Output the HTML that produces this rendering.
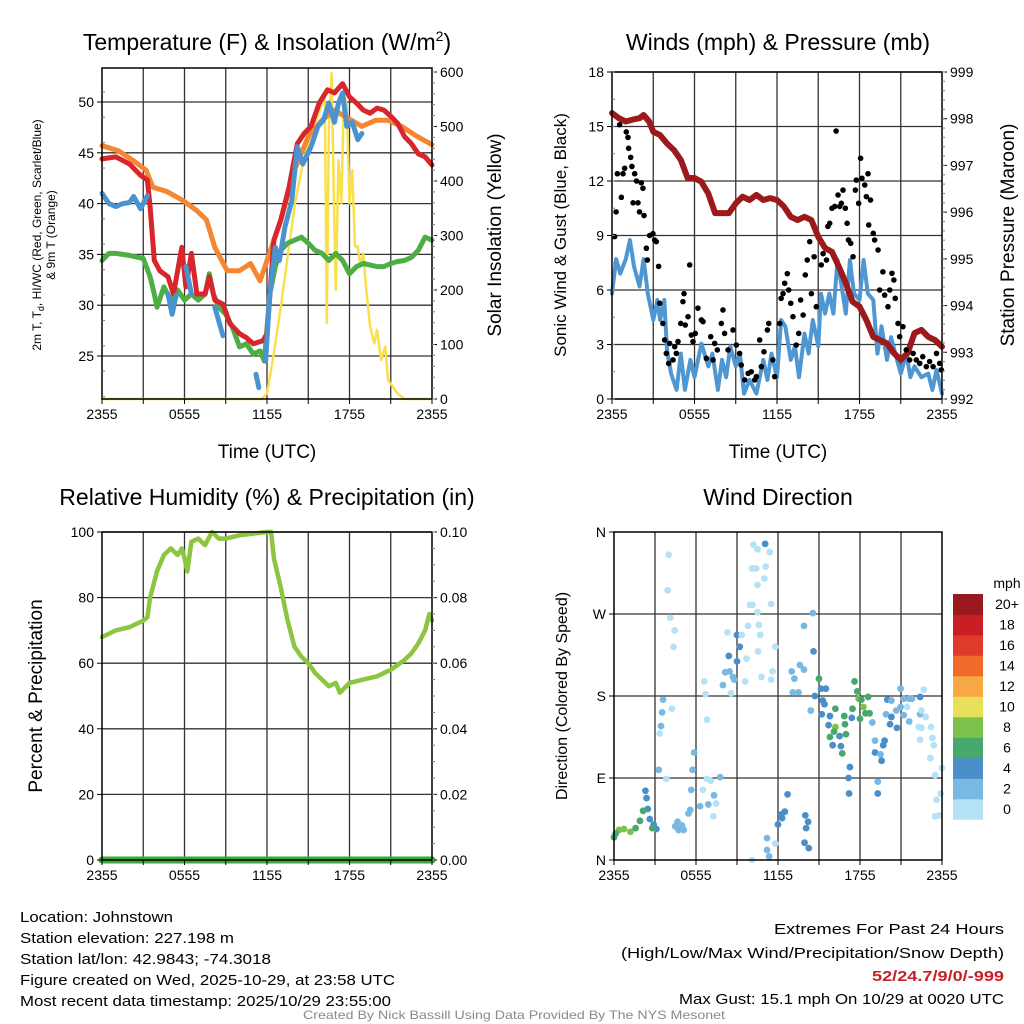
<!DOCTYPE html>
<html><head><meta charset="utf-8">
<style>
html,body{margin:0;padding:0;background:#fff;}
svg{display:block;font-family:"Liberation Sans",Arial,sans-serif;}
</style></head>
<body>
<svg id="fig" xmlns="http://www.w3.org/2000/svg" width="1024" height="1024" viewBox="0 0 1024 1024">
<rect x="0" y="0" width="1024" height="1024" fill="#fff"/>
<g id="layer"></g>
<text x="267" y="50" font-size="23" text-anchor="middle">Temperature (F) &amp; Insolation (W/m<tspan dy="-9" font-size="14">2</tspan><tspan dy="9">)</tspan></text>
<text x="778" y="50" font-size="23" text-anchor="middle">Winds (mph) &amp; Pressure (mb)</text>
<text x="267" y="505" font-size="23" text-anchor="middle">Relative Humidity (%) &amp; Precipitation (in)</text>
<text x="778" y="505" font-size="23" text-anchor="middle">Wind Direction</text>
<text x="267" y="458" font-size="19" text-anchor="middle">Time (UTC)</text>
<text x="778" y="458" font-size="19" text-anchor="middle">Time (UTC)</text>
<text transform="translate(41,235) rotate(-90)" font-size="12" text-anchor="middle">2m T, T<tspan dy="3" font-size="9">d</tspan><tspan dy="-3">, HI/WC (Red, Green, Scarlet/Blue)</tspan></text>
<text transform="translate(55,235) rotate(-90)" font-size="12" text-anchor="middle">&amp; 9m T (Orange)</text>
<text transform="translate(501,235) rotate(-90)" font-size="19" text-anchor="middle">Solar Insolation (Yellow)</text>
<text transform="translate(566,235) rotate(-90)" font-size="17" text-anchor="middle">Sonic Wind &amp; Gust (Blue, Black)</text>
<text transform="translate(1014,235) rotate(-90)" font-size="19" text-anchor="middle">Station Pressure (Maroon)</text>
<text transform="translate(42,696) rotate(-90)" font-size="19" text-anchor="middle">Percent &amp; Precipitation</text>
<text transform="translate(567,696) rotate(-90)" font-size="16" text-anchor="middle">Direction (Colored By Speed)</text>
<g font-size="15">
<text x="20" y="922" textLength="153" lengthAdjust="spacingAndGlyphs">Location: Johnstown</text>
<text x="20" y="943" textLength="214" lengthAdjust="spacingAndGlyphs">Station elevation: 227.198 m</text>
<text x="20" y="964" textLength="251" lengthAdjust="spacingAndGlyphs">Station lat/lon: 42.9843; -74.3018</text>
<text x="20" y="985" textLength="375" lengthAdjust="spacingAndGlyphs">Figure created on Wed, 2025-10-29, at 23:58 UTC</text>
<text x="20" y="1006" textLength="371" lengthAdjust="spacingAndGlyphs">Most recent data timestamp: 2025/10/29 23:55:00</text>
</g>
<g font-size="15">
<text x="774" y="934" textLength="230" lengthAdjust="spacingAndGlyphs">Extremes For Past 24 Hours</text>
<text x="621" y="958" textLength="383" lengthAdjust="spacingAndGlyphs">(High/Low/Max Wind/Precipitation/Snow Depth)</text>
<text x="872" y="981" textLength="132" lengthAdjust="spacingAndGlyphs" fill="#c8202a" font-weight="bold">52/24.7/9/0/-999</text>
<text x="679" y="1004" textLength="325" lengthAdjust="spacingAndGlyphs">Max Gust: 15.1 mph On 10/29 at 0020 UTC</text>
</g>
<text x="303" y="1019" font-size="12" fill="#8a8a8a" textLength="422" lengthAdjust="spacingAndGlyphs">Created By Nick Bassill Using Data Provided By The NYS Mesonet</text>
</svg>
<script>
// ---- Temperature panel data (hours since 2355 UTC, deg F) ----
const orangeT = [0,1.2,2.2,3.2,3.7,4.7,5.9,6.9,7.6,8.2,9.1,10,10.8,11.5,12,13,14,15,16,16.9,17.9,18.9,19.9,20.8,21.8,22.8,24];
const orangeV = [45.7,45.2,44.3,43.3,41.6,41.2,40.3,39.3,38.4,35.7,33.4,33.4,34.1,32.4,34.4,38.4,43.3,46.6,48.2,49.2,48.4,47.6,48.2,48.2,47.6,46.7,45.8];
const redT = [0,1,2,2.8,3.3,3.5,3.8,4.2,4.8,5.2,5.8,6.1,6.5,6.9,7.5,7.8,8.2,8.8,9.3,10,10.5,11,11.7,12,12.5,13,13.6,14.2,14.7,15.2,15.8,16.4,16.9,17.5,18,18.5,19,19.5,20,20.5,21,21.5,22,22.5,23,23.5,24];
const redV = [44.4,44.6,43.9,42.8,42.3,39.7,34.4,33.4,32.8,31.1,35.7,31.8,35.1,31.1,31.1,32.8,30.5,30.1,28.2,27.2,26.8,26.2,26.5,27.2,36.4,38.4,41.6,45.9,46.9,47.6,49.9,51.2,50.9,51.8,50.5,49.9,49.2,48.9,49.4,49.2,48.6,47.9,46.6,45.9,44.9,44.6,43.8];
const blueT = [0,0.5,1,1.5,2,2.3,2.8,3.3,null,4.8,5.1,5.4,null,6.1,6.3,6.5,null,8.2,8.8,null,11.2,11.4,null,11.9,12.2,12.6,12.9,13.3,13.8,14.2,14.6,15.2,15.7,16.1,16.5,16.9,17.2,17.5,17.8,18.2,18.6,18.9];
const blueV = [41.0,40.0,39.7,40.0,40.1,40.7,39.5,40.8,null,31.1,29.1,31.0,null,33.8,32.5,31.1,null,29.8,27.0,null,23.2,21.9,null,24.5,31.1,35.7,34.4,37.7,40.3,45.6,43.9,45.6,47.6,48.2,49.9,48.0,49.9,50.9,47.6,48.0,46.3,46.9];
const greenT = [0,0.5,1,2,3,3.5,3.8,4,4.5,5,5.5,6,6.5,7,7.5,7.8,8.1,8.5,9,9.5,10,10.5,11,11.5,11.8,12.2,12.6,13,13.5,14,14.5,15,15.5,16,16.5,17,17.5,18,18.5,19,20,20.5,21,21.5,22,22.5,23,23.5,24];
const greenV = [34.4,35.1,35.1,34.9,34.6,32.8,31.1,29.8,31.8,30.5,31.5,30.5,31.1,30.5,31.1,33.1,31.1,29.8,29.1,27.8,25.9,26.2,25.2,25.5,24.5,31.1,33.8,35.4,36.1,36.4,36.7,36.1,35.4,35.1,34.4,35.1,34.4,33.1,33.8,34.1,33.8,33.8,34.1,34.3,34.4,34.7,35.4,36.7,36.4];
const solarT = [0,11.6,12,12.5,13,13.5,14,14.5,15,15.5,16,16.2,16.35,16.5,16.7,16.9,17,17.2,17.4,17.6,17.8,18,18.2,18.4,18.6,18.8,19,19.2,19.5,19.8,20,20.3,20.6,20.8,21.5,22,24];
const solarV = [0,0,10,84,169,261,353,420,469,506,542,561,139,500,598,316,200,438,359,555,540,359,420,280,280,243,267,206,133,102,127,72,96,35,10,0,0];
const tempTicks = [25,30,35,40,45,50];
const solarTicks = [0,100,200,300,400,500,600];
const timeTicks = ["2355","0555","1155","1755","2355"];

// ---- Wind panel data ----
const presT = [0,0.5,1,1.5,2,2.3,2.7,3,3.5,4,4.5,5,5.5,6,6.5,7,7.5,8,8.5,9,9.5,10,10.5,11,11.5,12,12.5,13,13.5,14,14.5,15,15.5,16,16.5,17,17.5,18,18.5,19,19.5,20,20.5,21,21.5,22,22.5,23,23.5,24];
const presV = [998.12,998.01,997.94,997.98,998.01,998.08,997.94,997.72,997.65,997.47,997.33,997.12,996.73,996.73,996.65,996.40,995.98,995.98,995.98,996.19,996.33,996.26,996.37,996.26,996.30,996.26,996.12,995.90,995.83,995.90,995.83,995.47,995.23,995.15,994.83,994.48,994.08,993.98,993.69,993.33,993.26,993.19,992.98,992.84,992.98,993.41,993.48,993.33,993.26,993.12];
const windT = [0,0.3,0.6,1,1.3,1.6,2,2.3,2.6,3,3.3,3.5,3.8,4,4.3,4.7,5,5.3,5.7,6,6.5,7,7.3,7.7,8,8.3,8.6,9,9.3,9.6,10,10.5,11,11.3,11.6,12,12.3,12.6,13,13.3,13.6,14,14.3,14.6,15,15.2,15.5,15.8,16.1,16.4,16.7,17,17.3,17.6,18,18.3,18.6,19,19.3,19.6,20,20.3,20.6,21,21.4,21.7,22,22.5,23,23.3,23.6,24];
const windV = [5.8,7.7,6.9,7.7,8.75,7.3,6.2,7.7,5.8,4.35,5.45,4.35,5.45,2.7,1.4,0.5,2.5,0.5,2.15,1.2,3.05,1.8,2.5,0.5,2.15,1.2,2.9,1.8,2.5,0.3,1.05,0.3,2.15,1.05,2.5,1.2,4.35,4.0,2.15,2.9,1.2,3.6,2.5,4.35,2.9,5.8,4.7,5.8,4.7,7.65,6.2,4.7,7.65,5.8,5.45,7.65,5.8,5.45,2.5,4.0,2.15,3.4,2.5,1.4,2.5,1.2,1.8,1.2,1.4,0.5,1.6,0.3];
const gustT = [0.19,0.3,0.56,0.39,0.8,0.68,0.92,1.04,1.16,1.21,1.36,1.45,1.53,1.65,1.78,1.89,2.0,2.13,2.25,2.33,2.5,2.57,2.74,2.98,3.1,3.22,3.39,3.47,3.7,3.83,3.95,4.12,4.19,4.44,4.56,4.68,4.8,5.0,5.16,5.24,5.33,5.53,5.65,5.77,5.89,6.06,6.25,6.5,6.62,6.86,7.18,7.35,7.47,7.66,7.95,8.07,8.19,8.44,8.8,9.04,9.28,9.4,9.65,9.9,10.13,10.38,10.5,10.74,10.86,11.05,11.3,11.4,11.7,11.83,12.2,12.3,12.44,12.56,12.75,12.85,13.0,13.16,13.4,13.58,13.72,13.9,14.06,14.2,14.38,14.5,14.7,14.86,15.22,15.35,15.6,15.7,15.83,16.0,16.2,16.3,16.44,16.56,16.68,16.8,16.97,17.1,17.2,17.36,17.53,17.7,17.77,17.94,18.08,18.18,18.38,18.5,18.62,18.67,18.8,19.0,19.1,19.35,19.47,19.7,19.83,20.07,20.2,20.36,20.5,20.6,20.8,20.92,21.16,21.4,21.65,21.9,22.13,22.38,22.6,22.86,23.1,23.35,23.6,23.83,23.95];
const gustV = [8.94,10.3,15.1,12.4,12.4,11.1,12.7,14.7,14.4,13.8,13.3,12.8,10.8,12.4,12.0,10.8,10.3,11.9,11.6,10.1,8.3,7.65,9.0,9.1,8.75,8.66,7.3,5.27,4.16,3.25,2.51,1.96,3.06,2.15,2.88,2.51,3.16,4.16,5.36,5.8,4.07,4.53,7.38,3.52,3.16,3.61,5.0,4.35,4.26,2.24,3.43,2.15,3.06,2.7,4.16,4.9,3.61,2.7,3.8,2.97,2.51,1.87,1.05,1.41,1.5,1.05,1.23,3.25,1.78,2.6,3.8,4.16,2.15,1.23,4.16,5.54,5.8,6.37,6.9,6.0,5.27,4.53,2.97,3.61,5.45,4.62,6.83,7.65,8.66,5.8,7.83,5.08,7.38,8.0,7.65,9.5,9.67,10.5,10.6,14.75,11.23,10.6,10.77,11.5,10.5,9.67,8.75,8.57,7.83,11.5,12.05,10.77,13.25,12.15,11.78,11.14,12.4,9.58,10.95,9.12,8.75,8.2,6.0,7.0,5.72,5.08,6.0,6.92,6.55,5.54,4.16,3.43,3.98,2.7,2.15,2.51,2.15,1.96,2.33,1.78,2.06,1.78,2.51,1.96,1.6];
const windTicks = [0,3,6,9,12,15,18];
const presTicks = [992,993,994,995,996,997,998,999];

// ---- Humidity panel data ----
const rhT = [0,1,2,3,3.3,3.5,4,4.5,5,5.5,5.8,6,6.2,6.5,7,7.5,8,8.5,9,10,11,12,12.3,12.5,13,13.5,14,14.5,15,15.5,16,16.5,17,17.3,18,19,20,21,22,22.5,23,23.5,23.8,24];
const rhV = [68,70,71,73,74,80,88,93,95,93,95,92,88,97,98,96,100,98,98,99,99.5,100,100,92,83,73,65,62,60,57,55,53,54,51,54,55,56,58,61,63,66,70,75,73];
const precipT = [0,24];
const precipV = [0,0];
const rhTicks = [0,20,40,60,80,100];
const precipTicks = ["0.00","0.02","0.04","0.06","0.08","0.10"];

// ---- Wind direction panel data ----
const dirT = [4.0,3.93,4.12,4.44,4.36,3.59,4.24,3.52,3.44,3.35,3.27,3.83,5.87,5.75,5.65,6.5,6.8,7.08,7.76,7.32,7.47,6.9,6.3,5.58,5.45,7.27,4.65,4.97,4.73,5.1,4.48,2.3,2.38,2.47,2.13,2.62,1.9,2.9,3.1,2.8,1.58,1.2,0.73,0.37,0.12,0.0,6.6,6.7,6.8,7.97,8.14,8.45,8.7,8.8,8.56,8.3,9.0,9.2,8.4,9.0,9.35,9.8,9.7,9.6,10.13,10.6,10.7,10.54,10.79,11.5,11.6,11.8,11.5,10.5,9.95,10.5,11.0,11.1,10.4,10.1,10.2,10.5,11.06,11.4,10.1,11.35,11.2,11.2,11.8,12.0,12.3,12.5,12.7,12.25,14.0,14.2,14.06,13.94,14.25,13.9,14.55,14.6,13.0,13.2,13.6,13.9,13.08,13.5,14.4,14.7,15.0,15.15,15.5,15.27,15.4,15.2,15.7,15.8,16.2,16.85,16.9,16.2,16.1,15.8,16.5,16.97,16.0,16.6,16.7,17.6,17.8,17.9,17.45,17.4,18.0,18.25,18.6,18.7,18.1,18.4,17.26,17.16,17.2,19.3,19.3,19.1,19.8,19.1,19.5,19.58,19.7,18.9,20.0,20.3,19.9,20.3,20.2,20.7,20.65,20.97,20.97,21.2,21.6,21.8,21.45,21.2,21.6,22.4,22.4,22.66,22.5,22.8,22.3,22.5,22.4,23.2,23.3,23.4,23.15,24.0,23.5,23.9,23.6,23.8,23.5];
const dirV = [335,296,266,252,234,176,166,162,147,139,99,89,118,99,77,77,89,87,91,71,62,61,59,55,51,48,42,38,33,33,37,76,68,56,54,45,43,39,34,35,35,31,34,33,29,25,196,182,154,192,206,207,201,198,183,250,247,234,224,218,247,257,221,196,280,258,247,229,201,198,207,234,281,272,280,302,309,322,320,320,346,341,347,338,0,4,11,24,18,39,46,53,72,50,49,42,35,19,13,257,271,229,207,199,214,209,184,184,164,180,199,188,188,175,171,160,148,158,166,158,149,146,141,135,136,138,126,125,117,196,185,177,166,156,155,168,179,161,176,161,102,90,73,86,73,131,131,118,116,109,126,151,176,175,160,157,149,145,164,168,188,177,177,177,168,159,152,179,160,187,164,157,146,145,132,146,134,126,112,101,93,73,66,49,48];
const dirSpd = [1,1,1,1,1,3,1,3,3,1,3,1,3,3,3,1,1,1,3,3,1,3,3,3,3,1,3,3,3,3,3,5,5,5,7,5,7,5,5,7,7,9,9,9,7,7,1,1,1,3,3,3,3,3,1,1,5,5,5,5,1,1,1,1,1,1,1,1,1,1,1,1,1,1,1,1,1,1,1,1,1,1,5,1,1,3,3,3,1,5,5,5,5,5,5,5,5,5,5,3,3,5,3,3,3,3,3,3,3,5,7,5,5,5,5,5,5,5,7,7,7,9,7,7,5,7,5,5,7,7,7,9,7,5,7,9,7,7,7,7,5,5,5,3,5,3,5,5,3,5,5,3,5,3,3,5,5,5,3,3,3,3,3,3,1,3,3,5,3,1,1,1,1,1,1,1,1,1,1,1,1,1,1,1,1];
const dirTicks = ["N","E","S","W","N"];
const cbLabels = ["0","2","4","6","8","10","12","14","16","18","20+"];
const cbColors = ["#b6e2f7","#7ab8e4","#4a8fc9","#47a86e","#7cc24a","#e8e05a","#f8a845","#f06a2a","#e03a2a","#c81e24","#981a1e"];

const NS = "http://www.w3.org/2000/svg";
const layer = document.getElementById('layer');
function mk(tag, attrs, parent) {
  const e = document.createElementNS(NS, tag);
  for (const k in attrs) e.setAttribute(k, attrs[k]);
  (parent || layer).appendChild(e);
  return e;
}
function lin(d0, d1, r0, r1) { return v => r0 + (v - d0) * (r1 - r0) / (d1 - d0); }

function pathFrom(ts, vs, sx, sy) {
  let d = "", pen = false;
  for (let i = 0; i < ts.length; i++) {
    if (ts[i] === null || vs[i] === null) { pen = false; continue; }
    d += (pen ? "L" : "M") + sx(ts[i]).toFixed(1) + " " + sy(vs[i]).toFixed(1) + " ";
    pen = true;
  }
  return d;
}

function frame(x0, x1, y0, y1, name, hGridVals, sy) {
  const g = mk('g', {});
  
  
  const sx = lin(0, 24, x0, x1);
  for (let h = 3; h < 24; h += 3) {
    const l = mk('line', {x1: sx(h), x2: sx(h), y1: y0, y2: y1, stroke: '#333', 'stroke-width': 1.3}, g);
    
    
  }
  hGridVals.forEach(v => {
    const l = mk('line', {x1: x0, x2: x1, y1: sy(v), y2: sy(v), stroke: '#333', 'stroke-width': 1.3}, g);
    
    
  });
  return {g, sx};
}
function border(x0, x1, y0, y1, name) {
  const r = mk('rect', {x: x0, y: y0, width: x1 - x0, height: y1 - y0, fill: 'none', stroke: '#000', 'stroke-width': 1.5});
  
  
}
function xTicks(x0, x1, y1, name) {
  const sx = lin(0, 24, x0, x1);
  for (let h = 0; h <= 24; h += 3) {
    mk('line', {x1: sx(h), x2: sx(h), y1: y1, y2: y1 + 5, stroke: '#000', 'stroke-width': 1});
  }
  timeTicks.forEach((lab, i) => {
    const t = mk('text', {x: sx(i * 6), y: y1 + 20, 'font-size': 14, 'text-anchor': 'middle'});
    t.textContent = lab;
    
    
  });
}
function yTicks(vals, labels, sy, x, side, name) {
  vals.forEach((v, i) => {
    mk('line', {x1: x, x2: x + (side === 'left' ? -5 : 5), y1: sy(v), y2: sy(v), stroke: '#000', 'stroke-width': 1});
    const t = mk('text', {x: side === 'left' ? x - 8 : x + 8, y: sy(v) + 5, 'font-size': 14, 'text-anchor': side === 'left' ? 'end' : 'start'});
    t.textContent = labels[i];
    
    
  });
}
function minorTicks(lo, hi, step, sy, x, dir) {
  for (let v = lo; v <= hi + 1e-9; v += step) {
    mk('line', {x1: x, x2: x + dir * 3, y1: sy(v), y2: sy(v), stroke: '#777', 'stroke-width': 1});
  }
}
function series(ts, vs, sx, sy, color, w, name) {
  const p = mk('path', {d: pathFrom(ts, vs, sx, sy), fill: 'none', stroke: color, 'stroke-width': w, 'stroke-linejoin': 'round', 'stroke-linecap': 'round'});
  
  
}

// Panel 1: temperature
(function () {
  const x0 = 102, x1 = 432, y0 = 68, y1 = 399;
  const sy = lin(25, 50, 356, 102);
  const ss = lin(0, 600, 399, 72);
  const {sx} = frame(x0, x1, y0, y1, 'temperature', tempTicks, sy);
  series(solarT, solarV, sx, ss, '#f9e04b', 2.5, 'solar-insolation-line');
  series(orangeT, orangeV, sx, sy, '#f58632', 5, 'nine-meter-temp-line');
  series(greenT, greenV, sx, sy, '#4cae45', 5, 'dewpoint-line');
  series(redT, redV, sx, sy, '#d8262c', 5, 'two-meter-temp-line');
  series(blueT, blueV, sx, sy, '#4b93cf', 5, 'heat-index-windchill-line');
  border(x0, x1, y0, y1, 'temperature');
  xTicks(x0, x1, y1, 'temperature');
  yTicks(tempTicks, tempTicks.map(String), sy, x0, 'left', 'temperature-y');
  minorTicks(21, 53, 2.5, sy, x0, 1);
  yTicks(solarTicks, solarTicks.map(String), ss, x1, 'right', 'insolation-y');
  minorTicks(0, 600, 20, ss, x1, 1);
})();

// Panel 2: winds
(function () {
  const x0 = 612, x1 = 942, y0 = 72, y1 = 399;
  const sy = lin(0, 18, 399, 72);
  const sp = lin(992, 999, 399, 72);
  const {sx, g} = frame(x0, x1, y0, y1, 'wind', windTicks, sy);
  series(windT, windV, sx, sy, '#4f97d2', 4, 'sonic-wind-line');
  series(presT, presV, sx, sp, '#9c1a1c', 6, 'station-pressure-line');
  gustT.forEach((t, i) => {
    const c = mk('circle', {cx: sx(t), cy: sy(gustV[i]), r: 2.8, fill: '#000'});
    
    
  });
  border(x0, x1, y0, y1, 'wind');
  xTicks(x0, x1, y1, 'wind');
  yTicks(windTicks, windTicks.map(String), sy, x0, 'left', 'wind-y');
  minorTicks(0, 18, 1.5, sy, x0, 1);
  yTicks(presTicks, presTicks.map(String), sp, x1, 'right', 'pressure-y');
  minorTicks(992, 999, 0.2, sp, x1, 1);
})();

// Panel 3: humidity
(function () {
  const x0 = 102, x1 = 432, y0 = 532, y1 = 860;
  const sy = lin(0, 100, 860, 532);
  const {sx} = frame(x0, x1, y0, y1, 'humidity', rhTicks, sy);
  series(precipT, precipV, sx, sy, '#3da83a', 7, 'precipitation-line');
  series(rhT, rhV, sx, sy, '#8cc540', 4.5, 'relative-humidity-line');
  border(x0, x1, y0, y1, 'humidity');
  xTicks(x0, x1, y1, 'humidity');
  yTicks(rhTicks, rhTicks.map(String), sy, x0, 'left', 'humidity-y');
  yTicks(rhTicks, precipTicks, sy, x1, 'right', 'precip-y');
  minorTicks(0, 100, 5, sy, x1, 1);
})();

// Panel 4: wind direction
(function () {
  const x0 = 614, x1 = 942, y0 = 532, y1 = 860;
  const sy = lin(0, 360, 860, 532);
  const {sx} = frame(x0, x1, y0, y1, 'direction', [90, 180, 270], sy);
  dirT.forEach((t, i) => {
    const ci = Math.min(10, Math.floor(dirSpd[i] / 2));
    const c = mk('circle', {cx: sx(t), cy: sy(dirV[i]), r: 3.4, fill: cbColors[ci]});
    
    
  });
  border(x0, x1, y0, y1, 'direction');
  xTicks(x0, x1, y1, 'direction');
  yTicks([0, 90, 180, 270, 360], dirTicks, sy, x0, 'left', 'direction-y');
  // colorbar
  const cb = mk('g', {});
  
  
  const top = 594, bh = 20.5;
  const hdr = mk('text', {x: 1007, y: 588, 'font-size': 14, 'text-anchor': 'middle'}, cb);
  hdr.textContent = 'mph';
  
  
  cbLabels.forEach((lab, i) => {
    const k = cbLabels.length - 1 - i;
    const r = mk('rect', {x: 953, y: top + k * bh, width: 30, height: bh + 0.3, fill: cbColors[i]}, cb);
    
    
    const t = mk('text', {x: 1007, y: top + k * bh + 15, 'font-size': 14, 'text-anchor': 'middle'}, cb);
    t.textContent = lab;
    
    
  });
})();
</script>
</body></html>
